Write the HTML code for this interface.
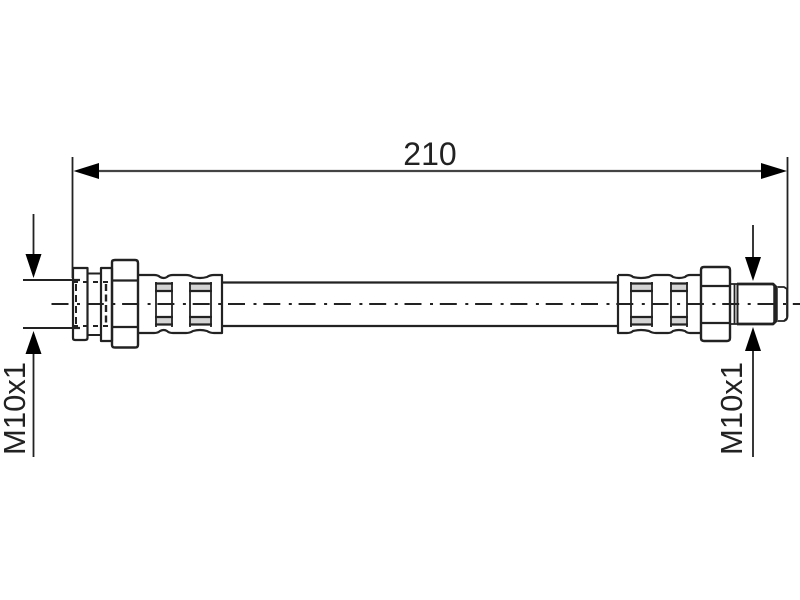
<!DOCTYPE html>
<html><head><meta charset="utf-8"><style>html,body{margin:0;padding:0;background:#fff}svg{display:block;filter:blur(.35px)}text{font-family:"Liberation Sans",sans-serif;fill:#222}</style></head>
<body>
<svg width="800" height="600" viewBox="0 0 800 600" xmlns="http://www.w3.org/2000/svg">
<rect width="800" height="600" fill="#fff"/>
<!-- inner crimp shading -->
<g fill="#d4d4d4">
<rect x="155" y="284" width="18" height="7"/><rect x="155" y="317" width="18" height="7"/>
<rect x="189" y="284" width="23" height="7"/><rect x="189" y="317" width="23" height="7"/>
<rect x="630" y="284" width="23" height="7"/><rect x="630" y="317" width="23" height="7"/>
<rect x="670" y="284" width="18" height="7"/><rect x="670" y="317" width="18" height="7"/>
</g>
<g fill="none" stroke="#222" stroke-width="1.800" stroke-linejoin="round">
<!-- extension + dimension -->
<path d="M72.500 157V278M787.500 157V316Q787.500 320 784 321"/>
<path d="M90 171H770" stroke-width="2.200" stroke="#444"/>
<path d="M23 280H74M23 328H74" stroke-width="2"/>
<path d="M33.500 214V256M33.500 352V457M753 225V260M753 350V457"/>
<!-- hose -->
<path d="M222 282.500H618M222 326H618" stroke-width="2.200"/>
<!-- centerline -->
<path d="M51.500 304H800" stroke-width="2" stroke-dasharray="17 8.500 3 6.800"/>
<!-- left fitting -->
<path d="M73 268H87.500V338Q87.500 340 85 340H75Q73 340 73 338Z" stroke-width="2.200"/>
<path d="M88 273.500H101M88 335H101" stroke-width="2"/>
<path d="M88 304H101" stroke-width="2"/>
<path d="M101 268H112V341H101Z" stroke-width="2.200"/>
<path d="M112 262Q112 260 115 260H135Q138 260 138 263V345Q138 347.500 135 347.500H115Q112 347.500 112 345Z" stroke-width="2.400"/>
<path d="M73 282H112M73 326H112" stroke-width="2" stroke-dasharray="5 5"/>
<path d="M73 280H80M73 328H80M112 280.500H138M112 327H138" stroke-width="2.200"/>
<path d="M76 284V324" stroke-width="2" stroke-dasharray="7 4"/>
<path d="M106 284V324" stroke-width="2.400" stroke-dasharray="7 3.500"/>
<!-- left crimp -->
<path d="M138 275H154Q158 275 160 277Q164 279 167 277Q169 275 173 275H186Q190 275 193 277Q200 279 207 277Q210 275 214 275H222V333H214Q210 333 207 331Q200 329 193 331Q190 333 186 333H173Q169 333 167 331Q164 329 160 331Q158 333 154 333H138" stroke-width="2.200"/>
<path d="M155 283.500H173M155 291H173M155 317H173M155 324.500H173M189 283.500H212M189 291H212M189 317H212M189 324.500H212" stroke-width="2.200"/>
<path d="M156 282V327M172 282V327M190 282V327M211 282V327" stroke-width="1.800"/>
<!-- right crimp -->
<path d="M618 275H627Q631 275 633 277Q641 279 649 277Q652 275 656 275H668Q671 275 673 277Q679 279 685 277Q687 275 690 275H701M701 333H690Q687 333 685 331Q679 329 673 331Q671 333 668 333H656Q652 333 649 331Q641 329 633 331Q631 333 627 333H618V275" stroke-width="2.200"/>
<path d="M630 283.500H653M630 291H653M630 317H653M630 324.500H653M670 283.500H688M670 291H688M670 317H688M670 324.500H688" stroke-width="2.200"/>
<path d="M631 282V327M652 282V327M671 282V327M687 282V327" stroke-width="1.800"/>
<!-- right nut -->
<path d="M701 270Q701 267 704 267H727Q730 267 730 270V338Q730 341 727 341H704Q701 341 701 338Z" stroke-width="2.400"/>
<path d="M701 286H730M701 323H730" stroke-width="2.200"/>
<path d="M730 284H737M730 324H737M734.500 284V324" stroke-width="1.800"/>
<path d="M737.500 284V324" stroke-width="2"/>
<path d="M737 284H773L776 287V321L773 324H737" stroke-width="2.800"/>
<path d="M775.500 286V322" stroke-width="4.500"/>
<path d="M778 287H784L787 289V318L784 321H778" stroke-width="1.800"/>
</g>
<g fill="#000">
<path d="M73.500 171L99 163V179Z"/>
<path d="M787 171L761 163V179Z"/>
<path d="M33.500 278L25.500 254H41.500Z"/>
<path d="M33.500 331L25.500 354H41.500Z"/>
<path d="M753 281L745 257H761Z"/>
<path d="M753 327L745 351H761Z"/>
</g>
<text x="430" y="165" font-size="32" text-anchor="middle">210</text>
<text transform="translate(25 455) rotate(-90)" font-size="31">M10x1</text>
<text transform="translate(742 455) rotate(-90)" font-size="31">M10x1</text>
</svg>
</body></html>
